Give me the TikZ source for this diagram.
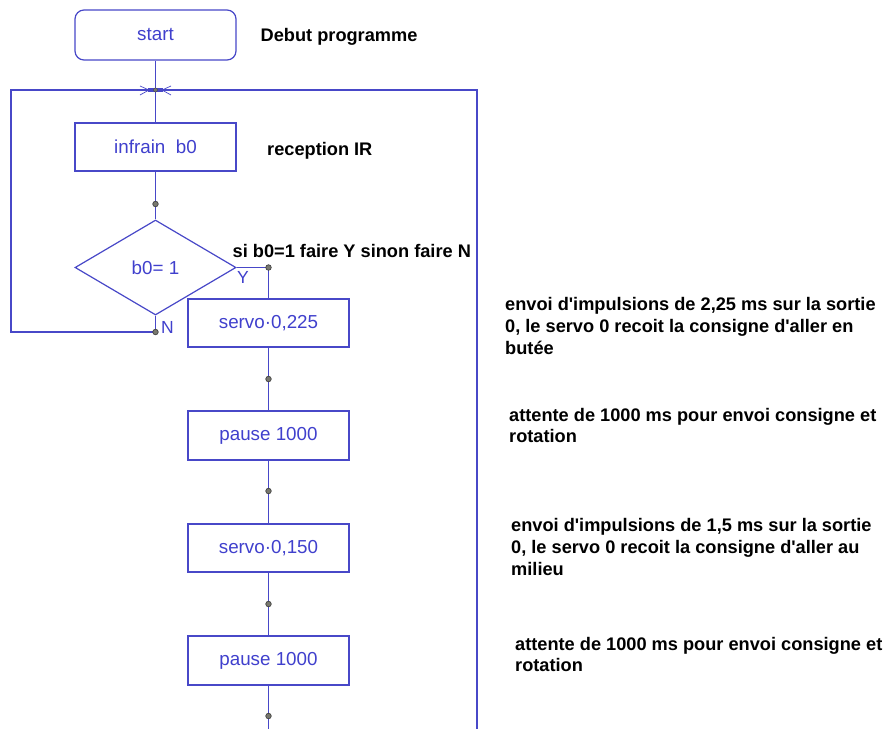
\documentclass[tikz,border=0pt]{standalone}
\usepackage{fontspec}
\setmainfont{Liberation Sans}
\usetikzlibrary{shapes.geometric}
\definecolor{fblue}{RGB}{72,72,200}
\definecolor{tblue}{RGB}{64,64,205}
\definecolor{dotgray}{RGB}{120,120,110}
\newcommand{\sq}{\textquotesingle}
\tikzset{
  box/.style={draw=fblue, line width=1.2pt, minimum width=161pt, minimum height=48pt, inner sep=0pt, text=tblue, font=\fontsize{18.8}{20}\selectfont},
  lbl/.style={text=tblue, inner sep=0pt, font=\fontsize{17.5}{20}\selectfont},
  note/.style={anchor=base west, inner sep=0pt, font=\fontsize{18.2}{22}\selectfont\bfseries},
  conn/.style={draw=fblue, line width=1.2pt},
  jdot/.style={circle, draw=black!75, fill=dotgray, line width=0.7pt, minimum size=5.5pt, inner sep=0pt}
}
\begin{document}
\begin{tikzpicture}[x=1pt,y=-1pt]
\useasboundingbox[fill=white] (0,0) rectangle (893,729);

% flowchart nodes
\node[box, rounded corners=9pt, minimum height=50pt] (start) at (155.5,35) {start};
\node[box] (infrain) at (155.5,147) {infrain\ \ b0};
\node[box, diamond, minimum width=161pt, minimum height=95pt] (test) at (155.5,267.5) {b0= 1};
\node[box] (servoA) at (268.5,323) {servo\textperiodcentered 0,225};
\node[box, minimum height=49pt] (pauseA) at (268.5,435.5) {pause 1000};
\node[box] (servoB) at (268.5,548) {servo\textperiodcentered 0,150};
\node[box, minimum height=49pt] (pauseB) at (268.5,660.5) {pause 1000};

% junction points
\coordinate (cross) at (155.5,90);
\coordinate (lt) at (11,90);
\coordinate (lb) at (11,332);
\coordinate (rt) at (477,90);
\coordinate (rb) at (477,729);
\coordinate (endB) at (268.5,729);

% connectors
\draw[conn] (start.south) -- (cross) -- (infrain.north);
\draw[conn] (infrain.south) -- (test.north);
\draw[conn] (test.east) -- (268.5,267.5) -- (servoA.north);
\draw[conn] (test.south) -- (155.5,332) -- (lb) -- (lt) -- (rt) -- (rb);
\draw[conn] (servoA.south) -- (pauseA.north);
\draw[conn] (pauseA.south) -- (servoB.north);
\draw[conn] (servoB.south) -- (pauseB.north);
\draw[conn] (pauseB.south) -- (endB);

% crossing marker
\draw[fblue, line width=0.7pt] (140,86) -- (149,90) (140,95) -- (149,90)
  (162,90) -- (171,86) (162,90) -- (171,95);
\fill[fblue] (148,88.3) rectangle (163,91.7);
\node[circle, fill=dotgray, draw=black!70, line width=0.5pt, minimum size=4pt, inner sep=0pt] (xdot) at (cross) {};

% dots
\node[jdot] (d1) at (155.5,204) {};
\node[jdot] (dY) at (268.5,267.5) {};
\node[jdot] (dN) at (155.5,332) {};
\node[jdot] (d2) at (268.5,379) {};
\node[jdot] (d3) at (268.5,491) {};
\node[jdot] (d4) at (268.5,604) {};
\node[jdot] (d5) at (268.5,716) {};

% Y / N labels
\node[lbl, anchor=north west] (ylab) at (237,271) {Y};
\node[lbl, anchor=west] (nlab) at (161,327) {N};

% comments
\node[note] (c1) at (260.5,41) {Debut programme};
\node[note] (c2) at (267,155) {reception IR};
\node[note] (c3) at (232.5,257.5) {si b0=1 faire Y sinon faire N};
\node[note] (c4a) at (505,310.5) {envoi d\sq impulsions de 2,25 ms sur la sortie};
\node[note] (c4b) at (505,332.5) {0, le servo 0 recoit la consigne d\sq aller en};
\node[note] (c4c) at (505,354.5) {butée};
\node[note] (c5a) at (509,421) {attente de 1000 ms pour envoi consigne et};
\node[note] (c5b) at (509,442) {rotation};
\node[note] (c6a) at (511,531) {envoi d\sq impulsions de 1,5 ms sur la sortie};
\node[note] (c6b) at (511,553) {0, le servo 0 recoit la consigne d\sq aller au};
\node[note] (c6c) at (511,575) {milieu};
\node[note] (c7a) at (515,650) {attente de 1000 ms pour envoi consigne et};
\node[note] (c7b) at (515,671) {rotation};
\end{tikzpicture}
\end{document}
